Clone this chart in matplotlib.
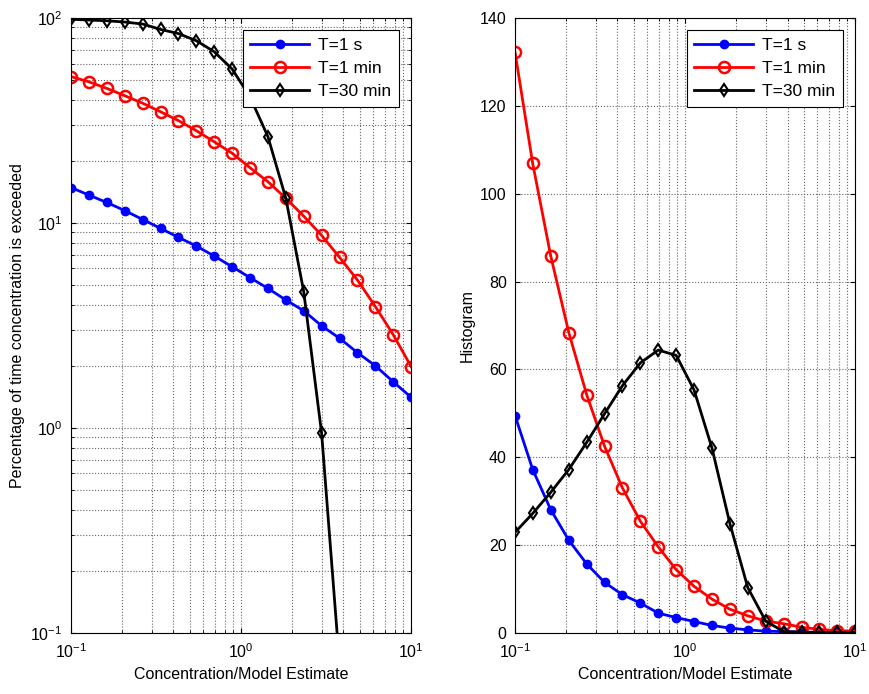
import numpy as np
import matplotlib
matplotlib.use('Agg')
import matplotlib.pyplot as plt
from matplotlib.ticker import LogLocator, NullFormatter

plt.rcParams['font.family'] = ['Liberation Sans', 'DejaVu Sans']
plt.rcParams['mathtext.fontset'] = 'custom'
plt.rcParams['mathtext.rm'] = 'Liberation Sans'
plt.rcParams['mathtext.it'] = 'Liberation Sans:italic'

# concentration / model estimate (20 log-spaced bins)
conc = [0.1, 0.127, 0.162, 0.207, 0.264, 0.336, 0.428, 0.546, 0.695, 0.886,
        1.129, 1.438, 1.833, 2.336, 2.976, 3.793, 4.833, 6.158, 7.848, 10.0]

labels = ['T=1 s', 'T=1 min', 'T=30 min']

# percentage of time concentration is exceeded
exceed_1s = [14.9, 13.7, 12.6, 11.5, 10.4, 9.42, 8.51, 7.72, 6.90, 6.12,
             5.41, 4.80, 4.21, 3.73, 3.15, 2.74, 2.33, 2.01, 1.68, 1.41]
exceed_1min = [51.8, 48.9, 45.4, 41.8, 38.4, 34.9, 31.6, 28.2, 24.9, 21.9,
               18.6, 15.9, 13.2, 10.8, 8.7, 6.8, 5.27, 3.91, 2.85, 1.99]
exceed_30min = [98.6, 97.8, 97.0, 95.6, 93.5, 88.0, 84.0, 77.5, 68.5, 56.4,
                41.2, 26.4, 13.2, 4.62, 0.94, 0.07, np.nan, np.nan, np.nan, np.nan]

# histogram
hist_1s = [49.5, 37.2, 28.1, 21.1, 15.7, 11.5, 8.7, 6.8, 4.5, 3.5,
           2.6, 1.7, 1.1, 0.7, 0.4, 0.3, 0.2, 0.1, 0.1, 0.1]
hist_1min = [132.2, 106.9, 85.9, 68.4, 54.2, 42.5, 33.0, 25.4, 19.6, 14.4,
             10.6, 7.7, 5.4, 3.9, 2.7, 2.1, 1.3, 0.8, 0.5, 0.4]
hist_30min = [22.9, 27.2, 32.0, 37.2, 43.4, 49.9, 56.3, 61.5, 64.4, 63.2,
              55.3, 42.1, 24.9, 10.3, 2.7, 0.3, 0.2, 0.1, 0.1, 0.1]

styles = [dict(color='#0000ff', marker='o', markersize=6, markerfacecolor='#0000ff',
               markeredgecolor='#0000ff'),
          dict(color='#ff0000', marker='o', markersize=8, markerfacecolor='none',
               markeredgecolor='#ff0000', markeredgewidth=1.8),
          dict(color='black', marker='d', markersize=6, markerfacecolor='none',
               markeredgecolor='black', markeredgewidth=1.5)]


def style_axes(ax):
    ax.grid(True, which='both', linestyle=':', color='0.4', linewidth=0.8)
    ax.tick_params(which='both', direction='in', top=True, right=True, labelsize=11.5)
    ax.tick_params(axis='x', pad=7)
    ax.tick_params(axis='y', pad=6)
    for sp in ax.spines.values():
        sp.set_linewidth(0.8)
    ax.set_xlim(0.1, 10)
    ax.set_xlabel('Concentration/Model Estimate', fontsize=11.5)
    leg = ax.legend(loc='upper right', fontsize=12.5, fancybox=False, edgecolor='black',
                    framealpha=1, borderaxespad=0.7, handlelength=3.4,
                    labelspacing=0.45, borderpad=0.45, handletextpad=0.5)
    leg.get_frame().set_linewidth(0.8)


fig = plt.figure(figsize=(8.7, 6.94), dpi=100)
ax1 = fig.add_axes([0.0816, 0.088, 0.391, 0.886])
ax2 = fig.add_axes([0.592, 0.088, 0.391, 0.886])

for vals, lab, st in zip([exceed_1s, exceed_1min, exceed_30min], labels, styles):
    ax1.plot(conc, vals, linewidth=2, label=lab, **st)
ax1.set_xscale('log')
ax1.set_yscale('log')
ax1.set_ylim(0.1, 100)
ax1.set_ylabel('Percentage of time concentration is exceeded', fontsize=11.5)
ax1.yaxis.set_minor_locator(LogLocator(base=10, subs=np.arange(2, 10)))
ax1.yaxis.set_minor_formatter(NullFormatter())
style_axes(ax1)

for vals, lab, st in zip([hist_1s, hist_1min, hist_30min], labels, styles):
    ax2.plot(conc, vals, linewidth=2, label=lab, **st)
ax2.set_xscale('log')
ax2.set_ylim(0, 140)
ax2.set_yticks(np.arange(0, 141, 20))
ax2.set_ylabel('Histogram', fontsize=11.5)
style_axes(ax2)

for ax in (ax1, ax2):
    ax.xaxis.set_minor_locator(LogLocator(base=10, subs=np.arange(2, 10)))
    ax.xaxis.set_minor_formatter(NullFormatter())

fig.savefig('out.png', dpi=100)
plt.close()
